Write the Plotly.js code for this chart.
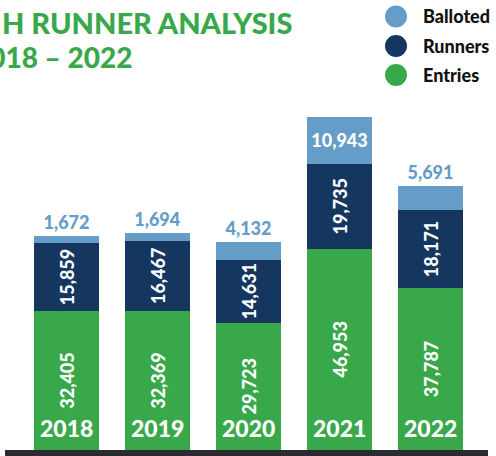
<!DOCTYPE html>
<html><head><meta charset="utf-8">
<script src="https://cdn.plot.ly/plotly-3.0.1.min.js"></script>
<style>html,body{margin:0;padding:0;background:#fff}#chart{width:496px;height:456px}</style>
</head><body><div id="chart"></div>
<script>
// ---- data ----
const years = ['2018', '2019', '2020', '2021', '2022'];
const entries = [32405, 32369, 29723, 46953, 37787];
const runners = [15859, 16467, 14631, 19735, 18171];
const balloted = [1672, 1694, 4132, 10943, 5691];
const seriesNames = ['Entries', 'Runners', 'Balloted'];
const titleLine1 = 'H RUNNER ANALYSIS';
const titleLine2 = '2018 – 2022';

// ---- style ----
const FONT = 'Lato, "Open Sans", "DejaVu Sans", sans-serif';
const GREEN = '#38a84a', NAVY = '#15365f', LIGHT = '#659dc8';
const seriesColors = [GREEN, NAVY, LIGHT];
const L = 21, R = 20, T = 100, B = 6, W = 496, H = 456;
const plotW = W - L - R, plotH = H - T - B;
const px2x = p => (p - L) / plotW;
const py2y = p => (H - B - p) / plotH;

const totals = years.map((_, i) => entries[i] + runners[i] + balloted[i]);
const yMax = Math.max(...totals) * 1.051;

const labelFont = {family: FONT, size: 18, color: '#ffffff', weight: 900};

const traces = [
  {type: 'bar', name: seriesNames[0], x: years, y: entries, marker: {color: GREEN},
   texttemplate: '%{y:,}', textposition: 'inside', insidetextanchor: 'middle', textangle: -90,
   constraintext: 'none', insidetextfont: labelFont, cliponaxis: false, hoverinfo: 'skip'},
  {type: 'bar', name: seriesNames[1], x: years, y: runners, marker: {color: NAVY},
   texttemplate: '%{y:,}', textposition: 'inside', insidetextanchor: 'middle', textangle: -90,
   constraintext: 'none', insidetextfont: labelFont, cliponaxis: false, hoverinfo: 'skip'},
  {type: 'bar', name: seriesNames[2], x: years, y: balloted, marker: {color: LIGHT},
   texttemplate: '%{y:,}', textposition: 'auto', insidetextanchor: 'middle', textangle: 0,
   constraintext: 'none', insidetextfont: labelFont,
   outsidetextfont: {family: FONT, size: 18, color: LIGHT, weight: 900},
   cliponaxis: false, hoverinfo: 'skip'}
];

const annotations = [];
// year labels at the foot of each bar (x given as category index)
years.forEach((y, i) => annotations.push({
  x: i, y: 0, xref: 'x', yref: 'y', yanchor: 'bottom', yshift: 6, showarrow: false,
  text: y, font: {family: FONT, size: 23, color: '#ffffff', weight: 900}
}));
// title (cropped on the left, as in the reference)
annotations.push({
  xref: 'paper', yref: 'paper', x: px2x(0), y: py2y(22), xanchor: 'left', yanchor: 'middle',
  showarrow: false, text: titleLine1, font: {family: FONT, size: 29, color: GREEN, weight: 900}
});
annotations.push({
  xref: 'paper', yref: 'paper', x: px2x(134), y: py2y(57), xanchor: 'right', yanchor: 'middle',
  showarrow: false, text: titleLine2, font: {family: FONT, size: 28, color: GREEN, weight: 900}
});

// legend (circles + labels), top to bottom: Balloted, Runners, Entries
const shapes = [];
const legendOrder = [2, 1, 0];
const legendY = [16.5, 46, 75];
legendOrder.forEach((si, k) => {
  shapes.push({
    type: 'circle', xref: 'paper', yref: 'paper', xsizemode: 'pixel', ysizemode: 'pixel',
    xanchor: px2x(396), yanchor: py2y(legendY[k]), x0: -11, x1: 11, y0: -11, y1: 11,
    fillcolor: seriesColors[si], line: {width: 0}
  });
  annotations.push({
    xref: 'paper', yref: 'paper', x: px2x(421), y: py2y(legendY[k]), xanchor: 'left', yanchor: 'middle',
    showarrow: false, text: seriesNames[si], font: {family: FONT, size: 18, color: '#111111', weight: 900}
  });
});
// dark base strip under the bars
shapes.push({
  type: 'rect', xref: 'paper', yref: 'paper', ysizemode: 'pixel', yanchor: 0,
  x0: px2x(5), x1: px2x(488), y0: -8, y1: 0, fillcolor: '#2b2a33', line: {width: 0}, layer: 'above'
});

const layout = {
  width: W, height: H, margin: {l: L, r: R, t: T, b: B, pad: 0},
  paper_bgcolor: '#ffffff', plot_bgcolor: '#ffffff',
  barmode: 'stack', bargap: 0.275, showlegend: false, hovermode: false,
  xaxis: {type: 'category', range: [-0.5, years.length - 0.5], showticklabels: false, showgrid: false, zeroline: false, showline: false, ticks: ''},
  yaxis: {range: [0, yMax], showticklabels: false, showgrid: false, zeroline: false, showline: false, ticks: ''},
  annotations: annotations, shapes: shapes,
  font: {family: FONT}
};

Plotly.newPlot('chart', traces, layout, {displayModeBar: false, staticPlot: true});
</script>
</body></html>
